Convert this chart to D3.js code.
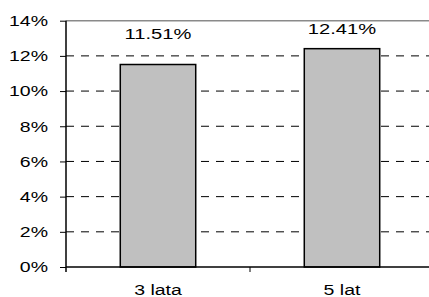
<!DOCTYPE html>
<html>
<head>
<meta charset="utf-8">
<script src="https://cdn.jsdelivr.net/npm/d3@7/dist/d3.min.js"></script>
<style>
  body { margin: 0; background: #fff; }
  text { font-family: "Liberation Sans", Arial, sans-serif; fill: #000; }
</style>
</head>
<body>
<div id="chart"></div>
<script>
// chart data
var categories = ["3 lata", "5 lat"];
var values = [11.51, 12.41];
var valueLabels = ["11.51%", "12.41%"];
var yTicks = [0, 2, 4, 6, 8, 10, 12, 14];

var width = 429, height = 297;
// note: "top" is a reserved window property, so use plot* names
var plotLeft = 66, plotRight = 434, plotTop = 20.7, plotBottom = 267;
var stretch = 1.3; // text in the reference is wider than tall

var svg = d3.select("#chart").append("svg")
  .attr("width", width)
  .attr("height", height);

var y = d3.scaleLinear().domain([0, 14]).range([plotBottom, plotTop]);
var x = d3.scaleBand().domain(categories).range([plotLeft, plotRight]).padding(0);
var barW = x.bandwidth() * 0.41;

// stretched text helper
function label(g, tx, ty, str, size, anchor) {
  g.append("text")
    .attr("transform", "translate(" + tx + "," + ty + ") scale(" + stretch + ",1)")
    .attr("text-anchor", anchor)
    .style("font-size", size + "px")
    .text(str);
}

// grid lines (dashed), top one is the gray plot border
svg.selectAll(".grid")
  .data(yTicks.filter(function(d) { return d > 0 && d < 14; }))
  .enter().append("line")
    .attr("x1", plotLeft).attr("x2", plotRight)
    .attr("y1", function(d) { return y(d); })
    .attr("y2", function(d) { return y(d); })
    .attr("stroke", "#000")
    .attr("stroke-width", 1)
    .attr("stroke-dasharray", "8,7");

svg.append("line")
  .attr("x1", plotLeft).attr("x2", plotRight)
  .attr("y1", y(14)).attr("y2", y(14))
  .attr("stroke", "#8a8a8a")
  .attr("stroke-width", 1.5);

// bars
svg.selectAll(".bar")
  .data(values)
  .enter().append("rect")
    .attr("x", function(d, i) { return x(categories[i]) + (x.bandwidth() - barW) / 2; })
    .attr("y", function(d) { return y(d); })
    .attr("width", barW)
    .attr("height", function(d) { return y(0) - y(d); })
    .attr("fill", "#c0c0c0")
    .attr("stroke", "#000")
    .attr("stroke-width", 1.5);

// value labels above the bars, kept inside the plot
values.forEach(function(v, i) {
  var cx = x(categories[i]) + x.bandwidth() / 2;
  var by = Math.max(y(v) - 26, y(14) + 13.6);
  label(svg, cx, by, valueLabels[i], 15.5, "middle");
});

// y axis
svg.append("g")
  .attr("transform", "translate(" + plotLeft + ",0)")
  .call(d3.axisLeft(y).tickValues(yTicks).tickSize(6).tickFormat(""))
  .call(function(g) {
    g.select(".domain").attr("stroke", "#000").attr("stroke-width", 1.5)
      .attr("d", "M0," + (plotBottom + 5) + "V" + plotTop);
    g.selectAll(".tick line").attr("stroke", "#000");
  });

yTicks.forEach(function(t) {
  label(svg, plotLeft - 18, y(t) + 5.3, t + "%", 15, "end");
});

// x axis
svg.append("g")
  .attr("transform", "translate(0," + plotBottom + ")")
  .call(d3.axisBottom(x).tickSize(0).tickFormat(""))
  .call(function(g) {
    g.select(".domain").attr("stroke", "#000").attr("stroke-width", 1.5)
      .attr("d", "M" + plotLeft + ",0H" + plotRight);
  });

// category separator ticks
svg.selectAll(".sep")
  .data(categories.slice(1))
  .enter().append("line")
    .attr("x1", function(d) { return x(d); })
    .attr("x2", function(d) { return x(d); })
    .attr("y1", plotBottom).attr("y2", plotBottom + 5)
    .attr("stroke", "#000");

categories.forEach(function(c) {
  label(svg, x(c) + x.bandwidth() / 2, plotBottom + 28, c, 15, "middle");
});
</script>
</body>
</html>
